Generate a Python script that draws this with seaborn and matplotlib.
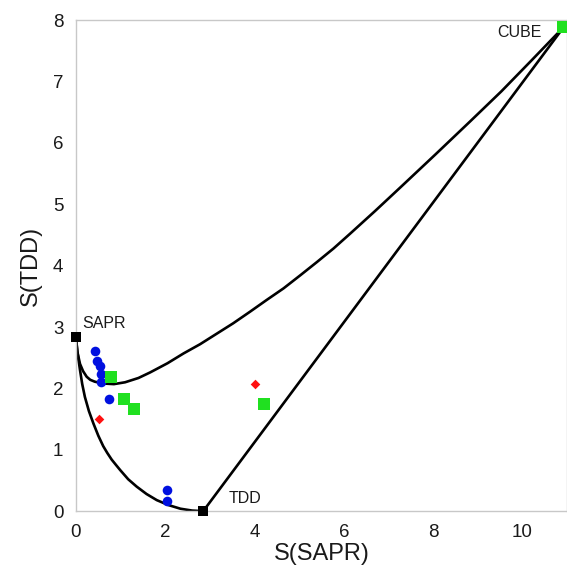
import matplotlib
matplotlib.use("Agg")
import matplotlib.pyplot as plt
import seaborn as sns
import pandas as pd

# curve: SAPR -> CUBE (upper path)
upper_x = [0.0, 0.03, 0.09, 0.16, 0.24, 0.32, 0.42, 0.61, 0.85, 1.10, 1.40, 1.66, 2.05, 2.41, 2.78, 3.15, 3.52, 3.90, 4.27, 4.65, 5.02, 5.40, 5.77, 6.14, 6.70, 7.26, 8.05, 8.83, 9.53, 10.20, 10.73, 10.92]
upper_y = [2.83, 2.60, 2.40, 2.28, 2.19, 2.14, 2.11, 2.08, 2.07, 2.10, 2.17, 2.26, 2.41, 2.57, 2.72, 2.89, 3.06, 3.25, 3.44, 3.63, 3.84, 4.06, 4.28, 4.52, 4.89, 5.27, 5.81, 6.35, 6.84, 7.34, 7.74, 7.88]

# curve SAPR -> TDD (lower path)
lower_x = [0.0, 0.02, 0.04, 0.09, 0.14, 0.20, 0.29, 0.39, 0.50, 0.61, 0.70, 0.80, 0.90, 0.99, 1.17, 1.36, 1.58, 1.81, 2.07, 2.34, 2.60, 2.85]
lower_y = [2.83, 2.68, 2.55, 2.30, 2.07, 1.86, 1.63, 1.43, 1.23, 1.06, 0.95, 0.84, 0.75, 0.67, 0.52, 0.40, 0.28, 0.18, 0.10, 0.04, 0.01, 0.0]

# straight edge TDD -> CUBE
edge_x = [2.85, 10.92]
edge_y = [0.0, 7.88]

# vertices
vert_names = ["SAPR", "TDD", "CUBE"]
vert_x = [0.0, 2.85, 10.92]
vert_y = [2.83, 0.0, 7.88]

blue_x = [0.43, 0.46, 0.54, 0.56, 0.56, 0.73, 2.04, 2.04]
blue_y = [2.61, 2.44, 2.37, 2.23, 2.11, 1.82, 0.34, 0.17]

green_x = [0.79, 1.08, 1.29, 4.22, 10.92]
green_y = [2.18, 1.83, 1.66, 1.75, 7.88]

red_x = [0.52, 4.00]
red_y = [1.50, 2.07]

sns.set_style("white")
plt.rcParams["font.family"] = ["Liberation Sans", "DejaVu Sans"]

fig = plt.figure(figsize=(5.67, 5.75), dpi=100)
ax = fig.add_axes([0.134, 0.111, 0.866, 0.854])

for xs, ys in [(upper_x, upper_y), (lower_x, lower_y), (edge_x, edge_y)]:
    sns.lineplot(x=xs, y=ys, sort=False, color="black", linewidth=1.9, ax=ax, zorder=2)

sns.scatterplot(x=vert_x, y=vert_y, marker="s", s=60, color="black", linewidth=0, ax=ax, zorder=3, clip_on=False)
sns.scatterplot(x=blue_x, y=blue_y, marker="o", s=48, color="#0010e0", linewidth=0, ax=ax, zorder=4)
sns.scatterplot(x=green_x, y=green_y, marker="s", s=80, color="#20e020", linewidth=0, ax=ax, zorder=4, clip_on=False)
sns.scatterplot(x=red_x, y=red_y, marker="D", s=24, color="#ff1010", linewidth=0, ax=ax, zorder=4)

ax.text(0.13, 3.06, "SAPR", fontsize=11.5, color="#1a1a1a", va="center", ha="left")
ax.text(3.42, 0.2, "TDD", fontsize=11.5, color="#1a1a1a", va="center", ha="left")
ax.text(10.43, 7.8, "CUBE", fontsize=11.5, color="#1a1a1a", va="center", ha="right")

ax.set_xlim(0, 11)
ax.set_ylim(0, 8)
ax.set_xticks([0, 2, 4, 6, 8, 10])
ax.set_yticks(range(0, 9))
ax.set_xlabel("S(SAPR)", fontsize=17, labelpad=2, color="#1a1a1a")
ax.set_ylabel("S(TDD)", fontsize=17, labelpad=8, color="#1a1a1a")
ax.tick_params(axis="both", labelsize=13.5, labelcolor="#1a1a1a", direction="in", length=3, color="#cccccc", pad=9)
for sp in ax.spines.values():
    sp.set_color("#c8c8c8")
    sp.set_linewidth(1.0)

fig.savefig("out.png", dpi=100)
